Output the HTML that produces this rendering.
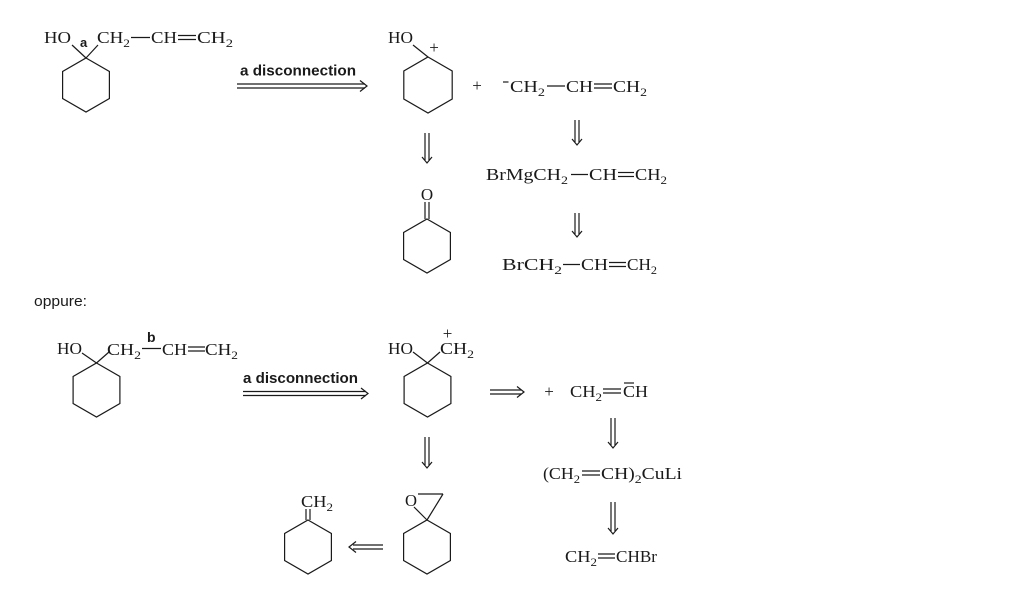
<!DOCTYPE html>
<html><head><meta charset="utf-8"><style>
html,body{margin:0;padding:0;background:#fff;}
svg{display:block;}
.s{font-family:"Liberation Serif",serif;font-size:17px;fill:#1a1a1a;}
.b{font-family:"Liberation Sans",sans-serif;font-weight:bold;fill:#1a1a1a;}
.n{font-family:"Liberation Sans",sans-serif;fill:#1a1a1a;}
line,polygon,polyline{stroke:#1a1a1a;stroke-width:1.2;fill:none;}
</style></head><body>
<svg width="1024" height="606" viewBox="0 0 1024 606" xmlns="http://www.w3.org/2000/svg">
<!-- TOP LEFT -->
<text class="s" x="44" y="43" textLength="27" lengthAdjust="spacingAndGlyphs">HO</text>
<line x1="72" y1="45" x2="86" y2="58"/>
<text class="b" x="80" y="47" font-size="13">a</text>
<line x1="86" y1="58" x2="98" y2="45"/>
<text class="s" x="97" y="43" textLength="33" lengthAdjust="spacingAndGlyphs">CH<tspan font-size="12" dy="4">2</tspan></text>
<line x1="131" y1="37.5" x2="150" y2="37.5"/>
<text class="s" x="151" y="43" textLength="26" lengthAdjust="spacingAndGlyphs">CH</text>
<line x1="178" y1="35.5" x2="196" y2="35.5"/><line x1="178" y1="39.5" x2="196" y2="39.5"/>
<text class="s" x="197" y="43" textLength="36" lengthAdjust="spacingAndGlyphs">CH<tspan font-size="12" dy="4">2</tspan></text>
<polygon points="86,58 109.4,71.5 109.4,98.5 86,112 62.6,98.5 62.6,71.5"/>

<!-- ARROW 1 -->
<text class="b" x="240" y="75.5" font-size="15" textLength="116" lengthAdjust="spacingAndGlyphs">a disconnection</text>
<line x1="237" y1="84" x2="365" y2="84"/><line x1="237" y1="88" x2="365" y2="88"/>
<polyline points="360,80.5 367,86 360,91.5"/>

<!-- TOP MIDDLE -->
<text class="s" x="388" y="43" textLength="25" lengthAdjust="spacingAndGlyphs">HO</text>
<line x1="413" y1="45" x2="428" y2="57"/>
<text class="s" x="434" y="53" font-size="11" text-anchor="middle">+</text>
<polygon points="428,57 452.2,71 452.2,99 428,113 403.8,99 403.8,71"/>
<text class="s" x="477" y="91" text-anchor="middle">+</text>
<line x1="503" y1="82" x2="508.5" y2="82"/>
<text class="s" x="510" y="92" textLength="35" lengthAdjust="spacingAndGlyphs">CH<tspan font-size="12" dy="4">2</tspan></text>
<line x1="547" y1="86" x2="565" y2="86"/>
<text class="s" x="566" y="92" textLength="27" lengthAdjust="spacingAndGlyphs">CH</text>
<line x1="594" y1="84" x2="612" y2="84"/><line x1="594" y1="88" x2="612" y2="88"/>
<text class="s" x="613" y="92" textLength="34" lengthAdjust="spacingAndGlyphs">CH<tspan font-size="12" dy="4">2</tspan></text>

<!-- down arrow 577 120-145 -->
<line x1="575" y1="120" x2="575" y2="142"/><line x1="579" y1="120" x2="579" y2="142"/>
<polyline points="572,139 577,145 582,139"/>

<text class="s" x="486" y="180" textLength="82" lengthAdjust="spacingAndGlyphs">BrMgCH<tspan font-size="12" dy="4">2</tspan></text>
<line x1="571" y1="174.5" x2="588" y2="174.5"/>
<text class="s" x="589" y="180" textLength="28" lengthAdjust="spacingAndGlyphs">CH</text>
<line x1="618" y1="172.5" x2="634" y2="172.5"/><line x1="618" y1="176.5" x2="634" y2="176.5"/>
<text class="s" x="635" y="180" textLength="32" lengthAdjust="spacingAndGlyphs">CH<tspan font-size="12" dy="4">2</tspan></text>

<line x1="575" y1="213" x2="575" y2="234"/><line x1="579" y1="213" x2="579" y2="234"/>
<polyline points="572,231 577,237 582,231"/>

<text class="s" x="502" y="270" textLength="60" lengthAdjust="spacingAndGlyphs">BrCH<tspan font-size="12" dy="4">2</tspan></text>
<line x1="563" y1="264.5" x2="580" y2="264.5"/>
<text class="s" x="581" y="270" textLength="27" lengthAdjust="spacingAndGlyphs">CH</text>
<line x1="609" y1="262.5" x2="626" y2="262.5"/><line x1="609" y1="266.5" x2="626" y2="266.5"/>
<text class="s" x="627" y="270" textLength="30" lengthAdjust="spacingAndGlyphs">CH<tspan font-size="12" dy="4">2</tspan></text>

<!-- left down arrow 427 133-163 -->
<line x1="425" y1="133" x2="425" y2="160"/><line x1="429" y1="133" x2="429" y2="160"/>
<polyline points="422,157 427,163 432,157"/>

<!-- ketone -->
<text class="s" x="427" y="200" text-anchor="middle">O</text>
<line x1="425" y1="202" x2="425" y2="219"/><line x1="429" y1="202" x2="429" y2="219"/>
<polygon points="427,219 450.4,232.5 450.4,259.5 427,273 403.6,259.5 403.6,232.5"/>

<!-- oppure -->
<text class="n" x="34" y="306" font-size="15" textLength="53" lengthAdjust="spacingAndGlyphs">oppure:</text>

<!-- BOTTOM LEFT -->
<text class="s" x="57" y="354" textLength="25" lengthAdjust="spacingAndGlyphs">HO</text>
<line x1="82" y1="353" x2="96.5" y2="363"/>
<line x1="96.5" y1="363" x2="109" y2="352"/>
<polygon points="96.5,363 119.9,376.5 119.9,403.5 96.5,417 73.1,403.5 73.1,376.5"/>
<text class="s" x="107" y="355" textLength="34" lengthAdjust="spacingAndGlyphs">CH<tspan font-size="12" dy="4">2</tspan></text>
<line x1="142" y1="348.5" x2="161" y2="348.5"/>
<text class="b" x="147" y="342" font-size="14">b</text>
<text class="s" x="162" y="355" textLength="25" lengthAdjust="spacingAndGlyphs">CH</text>
<line x1="188" y1="347" x2="205" y2="347"/><line x1="188" y1="351" x2="205" y2="351"/>
<text class="s" x="205" y="355" textLength="33" lengthAdjust="spacingAndGlyphs">CH<tspan font-size="12" dy="4">2</tspan></text>

<!-- ARROW 2 -->
<text class="b" x="243" y="383" font-size="15" textLength="115" lengthAdjust="spacingAndGlyphs">a disconnection</text>
<line x1="243" y1="391.5" x2="366" y2="391.5"/><line x1="243" y1="395.5" x2="366" y2="395.5"/>
<polyline points="361,388 368,393.5 361,399"/>

<!-- BOTTOM MIDDLE -->
<text class="s" x="388" y="354" textLength="25" lengthAdjust="spacingAndGlyphs">HO</text>
<line x1="413" y1="352" x2="427.5" y2="363"/>
<line x1="427.5" y1="363" x2="440" y2="352"/>
<text class="s" x="447.5" y="339" font-size="11" text-anchor="middle">+</text>
<text class="s" x="440" y="354" textLength="34" lengthAdjust="spacingAndGlyphs">CH<tspan font-size="12" dy="4">2</tspan></text>
<polygon points="427.5,363 450.9,376.5 450.9,403.5 427.5,417 404.1,403.5 404.1,376.5"/>

<line x1="425" y1="437" x2="425" y2="465"/><line x1="429" y1="437" x2="429" y2="465"/>
<polyline points="422,462 427,468 432,462"/>

<!-- epoxide -->
<text class="s" x="405" y="506" textLength="12" lengthAdjust="spacingAndGlyphs">O</text>
<line x1="418" y1="494" x2="443" y2="494"/>
<line x1="443" y1="494" x2="427" y2="520"/>
<line x1="414" y1="507" x2="427" y2="520"/>
<polygon points="427,520 450.4,533.5 450.4,560.5 427,574 403.6,560.5 403.6,533.5"/>

<!-- left arrow -->
<line x1="353" y1="545" x2="383" y2="545"/><line x1="353" y1="549" x2="383" y2="549"/>
<polyline points="356,541.5 349,547 356,552.5"/>

<!-- methylene -->
<text class="s" x="301" y="507" textLength="32" lengthAdjust="spacingAndGlyphs">CH<tspan font-size="12" dy="4">2</tspan></text>
<line x1="306" y1="509" x2="306" y2="520"/><line x1="310" y1="509" x2="310" y2="520"/>
<polygon points="308,520 331.4,533.5 331.4,560.5 308,574 284.6,560.5 284.6,533.5"/>

<!-- right arrow -->
<line x1="490" y1="390" x2="521" y2="390"/><line x1="490" y1="394" x2="521" y2="394"/>
<polyline points="517,386.5 524,392 517,397.5"/>
<text class="s" x="549" y="397" text-anchor="middle">+</text>
<text class="s" x="570" y="397" textLength="32" lengthAdjust="spacingAndGlyphs">CH<tspan font-size="12" dy="4">2</tspan></text>
<line x1="603" y1="389" x2="621" y2="389"/><line x1="603" y1="393" x2="621" y2="393"/>
<text class="s" x="623" y="397" textLength="25" lengthAdjust="spacingAndGlyphs">CH</text>
<line x1="624" y1="383" x2="634" y2="383"/>

<line x1="611" y1="418" x2="611" y2="445"/><line x1="615" y1="418" x2="615" y2="445"/>
<polyline points="608,442 613,448 618,442"/>

<text class="s" x="543" y="479" textLength="37" lengthAdjust="spacingAndGlyphs">(CH<tspan font-size="12" dy="4">2</tspan></text>
<line x1="582" y1="471" x2="600" y2="471"/><line x1="582" y1="475" x2="600" y2="475"/>
<text class="s" x="601" y="479" textLength="81" lengthAdjust="spacingAndGlyphs">CH)<tspan font-size="12" dy="4">2</tspan><tspan dy="-4">CuLi</tspan></text>

<line x1="611" y1="502" x2="611" y2="531"/><line x1="615" y1="502" x2="615" y2="531"/>
<polyline points="608,528 613,534 618,528"/>

<text class="s" x="565" y="562" textLength="32" lengthAdjust="spacingAndGlyphs">CH<tspan font-size="12" dy="4">2</tspan></text>
<line x1="598" y1="554" x2="615" y2="554"/><line x1="598" y1="558" x2="615" y2="558"/>
<text class="s" x="616" y="562" textLength="41" lengthAdjust="spacingAndGlyphs">CHBr</text>
</svg>
</body></html>
